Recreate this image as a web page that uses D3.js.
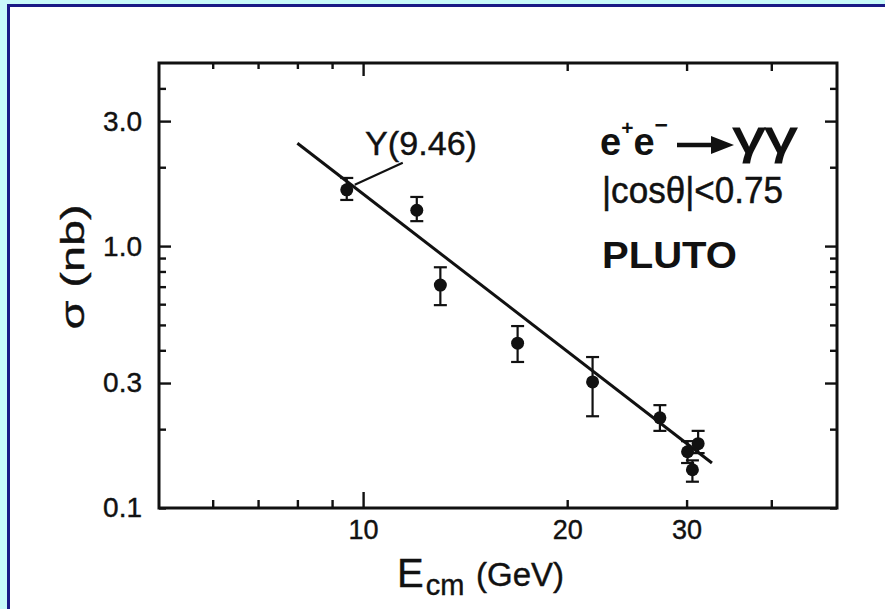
<!DOCTYPE html>
<html><head><meta charset="utf-8">
<script src="https://cdn.jsdelivr.net/npm/d3@7/dist/d3.min.js"></script>
<style>
html,body{margin:0;padding:0;background:#c8fafa;}
svg{display:block;}
text{font-family:"Liberation Sans",Arial,sans-serif;fill:#111;}
</style></head>
<body>
<svg id="chart" width="885" height="609"></svg>
<script>
// ---- data ----
const energy  = [9.46, 12.0, 13.0, 16.9, 21.8, 27.4, 30.1, 31.2, 30.6];
const sigma   = [1.64, 1.37, 0.71, 0.426, 0.303, 0.221, 0.164, 0.176, 0.140];
const errHigh = [1.82, 1.54, 0.83, 0.495, 0.377, 0.247, 0.180, 0.197, 0.152];
const errLow  = [1.50, 1.245, 0.595, 0.361, 0.224, 0.197, 0.1485, 0.162, 0.126];
const fitE     = [8.0, 32.7];
const fitSigma = [2.47, 0.1485];
const xTicks      = [6, 7, 8, 9, 10, 20, 30, 40];
const xTickLabels = ["10", "20", "30"];
const yTicks      = [0.1, 0.2, 0.3, 0.4, 0.5, 0.6, 0.7, 0.8, 0.9, 1, 2, 3, 4];
const yTickLabels = ["0.1", "0.3", "1.0", "3.0"];
const yMajor = [0.3, 1, 3];
const upsilonMass = 9.46;

const svg = d3.select("#chart");
// page frame
svg.append("rect").attr("x",0).attr("y",0).attr("width",885).attr("height",609).attr("fill","#c8fafa");
svg.append("rect").attr("x",8.5).attr("y",5.5).attr("width",900).attr("height",700)
  .attr("fill","#fff").attr("stroke","#1a1a86").attr("stroke-width",3);

const L=159, R=837, T=63, B=508;
const x = d3.scaleLog().domain([5,50]).range([L,R]);
const y = d3.scaleLog().domain([0.1,5]).range([B,T]);

const tickStroke = 2.4;
function styleAxis(g){ g.select(".domain").remove(); g.selectAll("line").attr("stroke","#111").attr("stroke-width",tickStroke); }

// left axis
const gl = svg.append("g").attr("transform",`translate(${L},0)`)
  .call(d3.axisLeft(y).tickValues(yTicks).tickSizeInner(-7).tickSizeOuter(0).tickPadding(17)
    .tickFormat(d => { const s = d>=1 ? d.toFixed(1) : String(d); return yTickLabels.includes(s) ? s : ""; }));
styleAxis(gl);
gl.selectAll(".tick line").attr("x2", d => yMajor.includes(d) ? 12 : 7);
gl.selectAll("text").attr("font-size",28).attr("stroke","#111").attr("stroke-width",0.4).attr("fill","#111");

// right axis
const gr = svg.append("g").attr("transform",`translate(${R},0)`)
  .call(d3.axisRight(y).tickValues(yTicks).tickSizeInner(-7).tickSizeOuter(0).tickFormat(""));
styleAxis(gr);
gr.selectAll(".tick line").attr("x2", d => yMajor.includes(d) ? -12 : -7);

// bottom axis
const gb = svg.append("g").attr("transform",`translate(0,${B})`)
  .call(d3.axisBottom(x).tickValues(xTicks).tickSizeInner(-8).tickSizeOuter(0).tickPadding(12)
    .tickFormat(d => xTickLabels.includes(String(d)) ? String(d) : ""));
styleAxis(gb);
gb.selectAll(".tick line").attr("y2", d => d===10 ? -16 : -8);
gb.selectAll("text").attr("font-size",27).attr("stroke","#111").attr("stroke-width",0.4).attr("fill","#111");

// top axis
const gt = svg.append("g").attr("transform",`translate(0,${T})`)
  .call(d3.axisTop(x).tickValues(xTicks).tickSizeInner(-6).tickSizeOuter(0).tickFormat(""));
styleAxis(gt);
gt.selectAll(".tick line").attr("y2", d => d===10 ? 13 : (d>10 ? 8 : 6));

// frame
svg.append("rect").attr("x",L).attr("y",T).attr("width",R-L).attr("height",B-T)
  .attr("fill","none").attr("stroke","#111").attr("stroke-width",3);

// fit line
svg.append("path")
  .datum(d3.zip(fitE, fitSigma))
  .attr("d", d3.line().x(d=>x(d[0])).y(d=>y(d[1])))
  .attr("fill","none").attr("stroke","#111").attr("stroke-width",3);

// data
const pts = energy.map((e,i)=>({e, s:sigma[i], hi:errHigh[i], lo:errLow[i]}));
const gp = svg.append("g");
gp.selectAll("line.err").data(pts).join("line").attr("class","err")
  .attr("x1",d=>x(d.e)).attr("x2",d=>x(d.e)).attr("y1",d=>y(d.hi)).attr("y2",d=>y(d.lo))
  .attr("stroke","#111").attr("stroke-width",2.2);
["hi","lo"].forEach(k=>{
  gp.selectAll("line.cap"+k).data(pts).join("line").attr("class","cap"+k)
    .attr("x1",d=>x(d.e)-6.5).attr("x2",d=>x(d.e)+6.5).attr("y1",d=>y(d[k])).attr("y2",d=>y(d[k]))
    .attr("stroke","#111").attr("stroke-width",2.2);
});
gp.selectAll("circle").data(pts).join("circle")
  .attr("cx",d=>x(d.e)).attr("cy",d=>y(d.s)).attr("r",6.5).attr("fill","#111");

// Upsilon annotation
const ux = x(upsilonMass), uy = y(sigma[0]);
svg.append("line").attr("x1",ux+8).attr("y1",uy-5).attr("x2",ux+56).attr("y2",uy-27)
  .attr("stroke","#111").attr("stroke-width",2.2);
svg.append("text").attr("x",365).attr("y",155).attr("font-size",34)
  .attr("textLength",112).attr("lengthAdjust","spacingAndGlyphs")
  .attr("stroke","#111").attr("stroke-width",0.4).text("Υ(9.46)");

function t(xp, yp, size, str, opts={}){
  const el = svg.append("text").attr("x",xp).attr("y",yp).attr("font-size",size).text(str);
  Object.entries(opts).forEach(([k,v])=>el.attr(k,v));
  return el;
}
// process label: e+e- -> γγ
const pr = svg.append("text").attr("x",600).attr("y",155).attr("font-weight","bold");
pr.append("tspan").attr("font-size",38).text("e");
pr.append("tspan").attr("font-size",21).attr("dy",-20).text("+");
pr.append("tspan").attr("font-size",38).attr("dy",20).text("e");
pr.append("tspan").attr("font-size",23).attr("dy",-22).text("−");
svg.append("line").attr("x1",677).attr("y1",145).attr("x2",716).attr("y2",145).attr("stroke","#111").attr("stroke-width",4.5);
svg.append("path").attr("d","M711,136 L734,145 L711,154 Z").attr("fill","#111");
t(733,153,46,"γγ",{"textLength":64,"lengthAdjust":"spacingAndGlyphs","stroke":"#111","stroke-width":1.2});
t(602,203,37,"|cosθ|<0.75",{"textLength":181,"lengthAdjust":"spacingAndGlyphs","stroke":"#111","stroke-width":0.5});
t(602,268,36,"PLUTO",{"font-weight":"bold","textLength":135,"lengthAdjust":"spacingAndGlyphs"});

// axis titles
svg.append("text").attr("transform","translate(84,267) rotate(-90)").attr("text-anchor","middle")
  .attr("font-size",34).attr("textLength",125).attr("lengthAdjust","spacingAndGlyphs")
  .attr("stroke","#111").attr("stroke-width",0.4).text("σ (nb)");
const xl = svg.append("text").attr("x",397).attr("y",587).attr("stroke","#111").attr("stroke-width",0.4);
xl.append("tspan").attr("font-size",40).text("E");
xl.append("tspan").attr("font-size",29).attr("dx",2).attr("dy",8).text("cm");
xl.append("tspan").attr("font-size",33).attr("x",476).attr("dy",-9).text("(GeV)");
</script>
</body></html>
